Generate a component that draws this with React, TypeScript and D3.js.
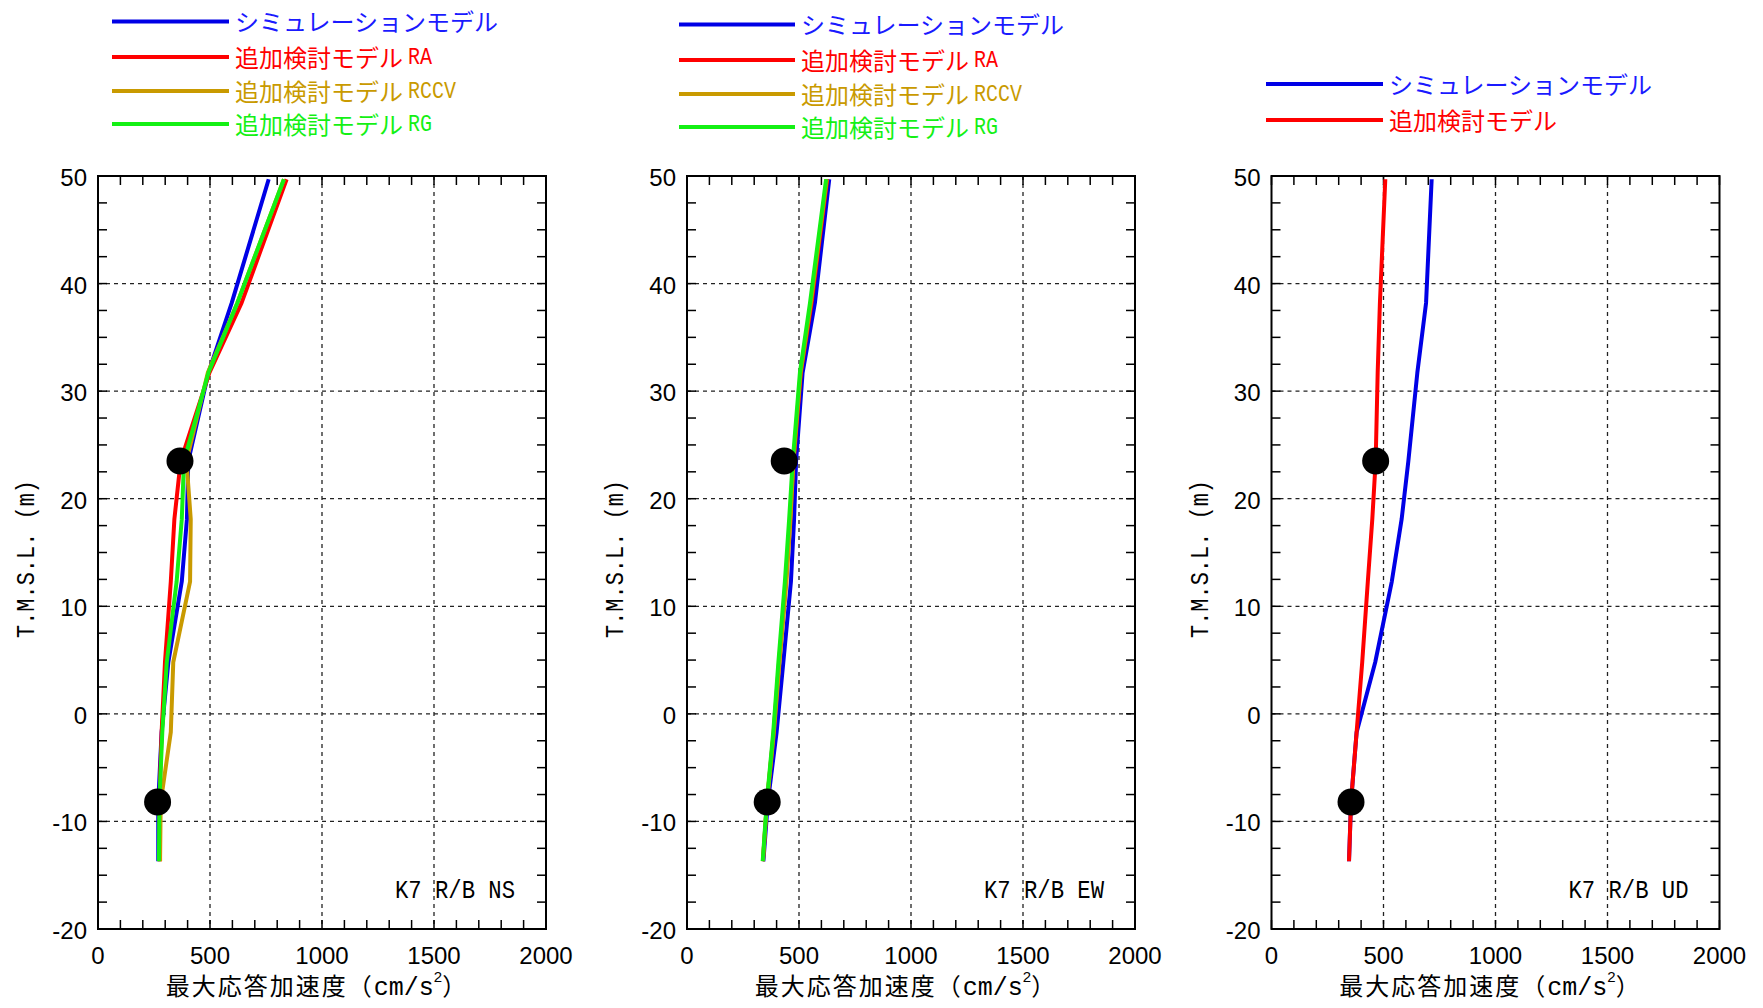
import React from 'react';
import * as d3 from 'd3';

// ---------- data ----------
const levels = [49.7, 38.2, 31.7, 23.5, 18.1, 12.3, 4.8, -1.7, -8.2, -13.7];

const nsSim = [762, 597, 493, 403, 397, 374, 314, 284, 269, 269];
const nsRA = [842, 641, 497, 369, 341, 325, 299, 284, 274, 277];
const nsRCCV = [830, 622, 490, 395, 414, 411, 336, 325, 280, 277];
const nsRG = [830, 622, 493, 384, 374, 351, 307, 287, 274, 272];

const ewSim = [635, 571, 516, 487, 478, 464, 430, 400, 361, 341];
const ewRA = [626, 556, 508, 476, 460, 441, 411, 387, 357, 339];
const ewRCCV = [624, 553, 507, 475, 462, 444, 413, 388, 357, 339];
const ewRG = [621, 549, 504, 472, 456, 437, 408, 385, 356, 338];

const udSim = [715, 690, 651, 611, 581, 537, 463, 380, 355, 346];
const udAdd = [508, 484, 474, 465, 450, 430, 405, 380, 355, 346];

const obsLevels = [23.5, -8.2];
const nsObs = [366, 266];
const ewObs = [434, 358];
const udObs = [465, 355];

const xTicks = [0, 500, 1000, 1500, 2000];
const yTicks = [-20, -10, 0, 10, 20, 30, 40, 50];
const xMinor = d3.range(0, 2001, 100);
const yMinor = d3.range(-20, 50.01, 2.5);

const labelSim = 'シミュレーションモデル';
const labelAdd = '追加検討モデル';
const suffixes4 = ['', 'RA', 'RCCV', 'RG'];
const panelNames = ['K7 R/B NS', 'K7 R/B EW', 'K7 R/B UD'];

// ---------- styles ----------
const BLUE = '#0000e6';
const RED = '#ff0000';
const GOLD = '#c99a00';
const GREEN = '#14f014';
const LEG_BLUE = '#1a1aff';

const FONT_NUM = "'Liberation Sans', Arial, sans-serif";
const FONT_CJK = "'Noto Sans CJK JP', 'Noto Sans', sans-serif";
const FONT_MONO = "'Liberation Mono', 'DejaVu Sans Mono', monospace";

const TOP = 176;
const BOTTOM = 929;
const W = 448;
const PANEL_X = [98, 687, 1271.5];

type Series = { vals: number[]; color: string };

function Panel({ x0, series, obs, name }: { x0: number; series: Series[]; obs: number[]; name: string }) {
  const x = d3.scaleLinear().domain([0, 2000]).range([x0, x0 + W]);
  const y = d3.scaleLinear().domain([-20, 50]).range([BOTTOM, TOP]);
  const TL = 9;
  return (
    <g>
      {/* grid */}
      {xTicks.slice(1, -1).map((t) => (
        <line key={'gx' + t} x1={x(t)} x2={x(t)} y1={TOP} y2={BOTTOM} stroke="#222" strokeWidth={1.3} strokeDasharray="4,4" />
      ))}
      {yTicks.slice(1, -1).map((t) => (
        <line key={'gy' + t} x1={x0} x2={x0 + W} y1={y(t)} y2={y(t)} stroke="#222" strokeWidth={1.3} strokeDasharray="4,4" />
      ))}
      {/* minor ticks */}
      {xMinor.map((t) => (
        <g key={'mx' + t}>
          <line x1={x(t)} x2={x(t)} y1={TOP} y2={TOP + TL} stroke="#000" strokeWidth={1.5} />
          <line x1={x(t)} x2={x(t)} y1={BOTTOM} y2={BOTTOM - TL} stroke="#000" strokeWidth={1.5} />
        </g>
      ))}
      {yMinor.map((t) => (
        <g key={'my' + t}>
          <line x1={x0} x2={x0 + TL} y1={y(t)} y2={y(t)} stroke="#000" strokeWidth={1.5} />
          <line x1={x0 + W} x2={x0 + W - TL} y1={y(t)} y2={y(t)} stroke="#000" strokeWidth={1.5} />
        </g>
      ))}
      {/* data */}
      {series.map((s, i) => {
        const line = d3
          .line<number>()
          .x((d) => x(d))
          .y((_, j) => y(levels[j]));
        return <path key={i} d={line(s.vals) || ''} fill="none" stroke={s.color} strokeWidth={4} strokeLinejoin="round" />;
      })}
      {obs.map((v, i) => (
        <circle key={'o' + i} cx={x(v)} cy={y(obsLevels[i])} r={13.5} fill="#000" />
      ))}
      {/* frame */}
      <rect x={x0} y={TOP} width={W} height={BOTTOM - TOP} fill="none" stroke="#000" strokeWidth={2} />
      {/* tick labels */}
      {xTicks.map((t) => (
        <text key={'xl' + t} x={x(t)} y={964} textAnchor="middle" fontFamily={FONT_NUM} fontSize={24} fill="#000">
          {t}
        </text>
      ))}
      {yTicks.map((t) => (
        <text key={'yl' + t} x={x0 - 11} y={y(t) + 10} textAnchor="end" fontFamily={FONT_NUM} fontSize={24} fill="#000">
          {t}
        </text>
      ))}
      {/* annotation */}
      <text x={x0 + W - 31} y={898} textAnchor="end" fontFamily={FONT_MONO} fontSize={26} textLength={120} lengthAdjust="spacingAndGlyphs" fill="#000">
        {name}
      </text>
      {/* x title */}
      <text x={x0 + W / 2 - 6} y={995} textAnchor="middle" fill="#000" fontSize={24}>
        <tspan fontFamily={FONT_CJK} letterSpacing={2}>最大応答加速度（</tspan>
        <tspan fontFamily={FONT_MONO} fontSize={25}>cm/s</tspan>
        <tspan fontFamily={FONT_NUM} fontSize={15} dy={-13}>2</tspan>
        <tspan fontFamily={FONT_CJK} dy={13}>）</tspan>
      </text>
      {/* y title */}
      <text
        transform={`translate(${x0 - 71},559) rotate(-90)`}
        textAnchor="middle"
        dominantBaseline="central"
        fontFamily={FONT_MONO}
        fontSize={26}
        textLength={158}
        lengthAdjust="spacingAndGlyphs"
        fill="#000"
      >
        T.M.S.L.  (m)
      </text>
    </g>
  );
}

function Legend({ x1, x2, ys, items }: { x1: number; x2: number; ys: number[]; items: { jp: string; suf: string; color: string; text: string }[] }) {
  const fs = 24;
  return (
    <g>
      {items.map((it, i) => (
        <g key={i}>
          <line x1={x1} x2={x2} y1={ys[i]} y2={ys[i]} stroke={it.color} strokeWidth={4} />
          <text x={x2 + 6} y={ys[i] - 1} dominantBaseline="central" fontFamily={FONT_CJK} fontSize={fs} fill={it.text}>
            {it.jp}
          </text>
          {it.suf && (
            <text
              x={x2 + 6 + it.jp.length * fs + 5}
              y={ys[i] + 7}
              fontFamily={FONT_MONO}
              fontSize={24}
              textLength={it.suf.length * 12}
              lengthAdjust="spacingAndGlyphs"
              fill={it.text}
            >
              {it.suf}
            </text>
          )}
        </g>
      ))}
    </g>
  );
}

export default function App() {
  const colors4 = [BLUE, RED, GOLD, GREEN];
  const textColors4 = [LEG_BLUE, RED, GOLD, GREEN];
  const items4 = suffixes4.map((s, i) => ({
    jp: i === 0 ? labelSim : labelAdd,
    suf: s,
    color: colors4[i],
    text: textColors4[i],
  }));
  const items2 = [
    { jp: labelSim, suf: '', color: BLUE, text: LEG_BLUE },
    { jp: labelAdd, suf: '', color: RED, text: RED },
  ];
  return (
    <div style={{ position: 'absolute', left: 0, top: 0 }}>
      <svg width={1763} height={1008} viewBox="0 0 1763 1008" style={{ display: 'block', background: '#fff' }}>
        <rect x={0} y={0} width={1763} height={1008} fill="#fff" />
        <Legend x1={112} x2={229} ys={[21.5, 57, 91, 124]} items={items4} />
        <Legend x1={679} x2={795} ys={[24.5, 60, 94, 127]} items={items4} />
        <Legend x1={1266} x2={1383} ys={[84, 120]} items={items2} />
        <Panel
          x0={PANEL_X[0]}
          name={panelNames[0]}
          obs={nsObs}
          series={[
            { vals: nsSim, color: BLUE },
            { vals: nsRA, color: RED },
            { vals: nsRCCV, color: GOLD },
            { vals: nsRG, color: GREEN },
          ]}
        />
        <Panel
          x0={PANEL_X[1]}
          name={panelNames[1]}
          obs={ewObs}
          series={[
            { vals: ewSim, color: BLUE },
            { vals: ewRA, color: RED },
            { vals: ewRCCV, color: GOLD },
            { vals: ewRG, color: GREEN },
          ]}
        />
        <Panel
          x0={PANEL_X[2]}
          name={panelNames[2]}
          obs={udObs}
          series={[
            { vals: udSim, color: BLUE },
            { vals: udAdd, color: RED },
          ]}
        />
      </svg>
    </div>
  );
}
